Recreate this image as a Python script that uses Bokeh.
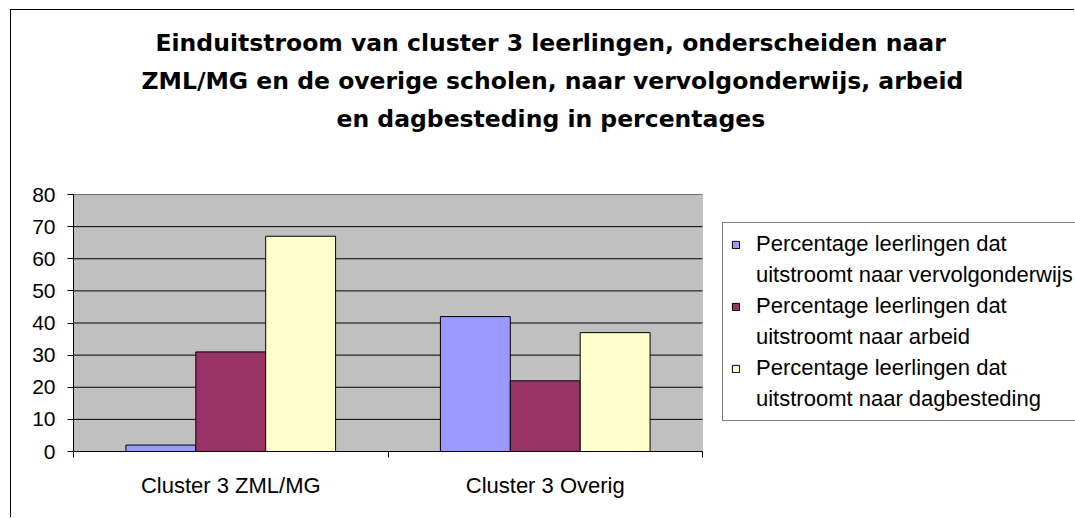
from bokeh.plotting import figure
from bokeh.models import (ColumnDataSource, Legend, LegendItem, FixedTicker,
                          Title, Range1d, BoxAnnotation)
from bokeh.embed import file_html
from bokeh.resources import INLINE

# ---- data ----
categories = ["Cluster 3 ZML/MG", "Cluster 3 Overig"]
series_label_line1 = ["Percentage leerlingen dat",
                      "Percentage leerlingen dat",
                      "Percentage leerlingen dat"]
series_label_line2 = ["uitstroomt naar vervolgonderwijs",
                      "uitstroomt naar arbeid",
                      "uitstroomt naar dagbesteding"]
vervolgonderwijs = [2, 42]
arbeid = [31, 22]
dagbesteding = [67, 37]
series_values = [vervolgonderwijs, arbeid, dagbesteding]
series_colors = ["#9999FF", "#993366", "#FFFFCC"]
y_ticks = [0, 10, 20, 30, 40, 50, 60, 70, 80]
title_lines = [
    "Einduitstroom van cluster 3 leerlingen, onderscheiden naar",
    "ZML/MG en de overige scholen, naar vervolgonderwijs, arbeid",
    "en dagbesteding in percentages",
]

FONT = "Liberation Sans"
W, H = 1064, 508
LEFT, RIGHT_FRAME = 62, 0
PLOT_PX = 629                         # width of the grey plot area in pixels
n_cat = len(categories)
y_max = y_ticks[-1]
# the frame also hosts the legend; the grey plot area covers x in [0, n_cat]
x_end = n_cat * (W - LEFT - RIGHT_FRAME) / PLOT_PX

p = figure(width=W, height=H, output_backend="svg", toolbar_location=None,
           x_range=Range1d(0, x_end), y_range=Range1d(0, y_max),
           min_border_left=LEFT, min_border_right=RIGHT_FRAME,
           min_border_top=184, min_border_bottom=67,
           background_fill_color="white", border_fill_color="white",
           outline_line_color=None,
           margin=(9, 0, 0, 10),
           styles={"border-left": "1px solid black",
                   "border-top": "1px solid black"})
p.title.visible = False

# grey plot area
p.add_layout(BoxAnnotation(left=0, right=n_cat, bottom=0, top=y_max,
                           fill_color="#C0C0C0", fill_alpha=1,
                           line_color="#808080", line_width=1,
                           level="underlay"))

# horizontal gridlines across the plot area only
p.xgrid.visible = False
p.ygrid.visible = False
p.segment(x0=[0] * len(y_ticks), x1=[n_cat] * len(y_ticks),
          y0=y_ticks, y1=y_ticks, line_color="black", line_width=1)

n_series = len(series_values)
bar_w = 1.0 / (n_series + 1.5)   # Excel gap width 150%
items = []
for j, (vals, l1, l2, col) in enumerate(zip(series_values, series_label_line1,
                                            series_label_line2, series_colors)):
    xs = [i + 0.5 + (j - (n_series - 1) / 2) * bar_w for i in range(n_cat)]
    src = ColumnDataSource(dict(x=xs, top=vals))
    r = p.vbar(x="x", top="top", width=bar_w, bottom=0, source=src,
               fill_color=col, line_color="black", line_width=1)
    # an empty, invisible renderer carries the second line of the legend label
    r2 = p.vbar(x=[], top=[], width=bar_w, bottom=0,
                fill_alpha=0, line_alpha=0)
    items.append(LegendItem(label=l1, renderers=[r]))
    items.append(LegendItem(label=l2, renderers=[r2]))

# y axis
p.yaxis.ticker = FixedTicker(ticks=y_ticks)
p.yaxis.axis_line_color = "black"
p.yaxis.major_tick_out = 6
p.yaxis.major_tick_in = 0
p.yaxis.minor_tick_line_color = None
p.yaxis.major_label_text_font = FONT
p.yaxis.major_label_text_font_size = "21px"
p.yaxis.major_label_text_color = "black"
p.yaxis.major_label_standoff = 12

# x axis
p.xaxis.bounds = (0, n_cat)
p.xaxis.ticker = FixedTicker(ticks=[i + 0.5 for i in range(n_cat)],
                             minor_ticks=list(range(n_cat + 1)))
p.xaxis.major_label_overrides = {i + 0.5: c for i, c in enumerate(categories)}
p.xaxis.axis_line_color = "black"
p.xaxis.major_tick_line_color = None
p.xaxis.minor_tick_line_color = "black"
p.xaxis.minor_tick_out = 6
p.xaxis.minor_tick_in = 0
p.xaxis.major_label_text_font = FONT
p.xaxis.major_label_text_font_size = "22px"
p.xaxis.major_label_text_color = "black"
p.xaxis.major_label_standoff = 15

# spacer between the title block and the plot area
p.add_layout(Title(text=" ", text_font_size="23.5px", standoff=30), "above")
# titles (closest to plot added first); left-aligned with offsets so that
# every line is centred near x = 549 of the chart area
title_offsets = [82, 68, 263]
for line, off in reversed(list(zip(title_lines, title_offsets))):
    t = Title(text=line, align="left", offset=off,
              text_font="DejaVu Sans", text_font_style="bold",
              text_font_size="23.5px", text_color="black", standoff=8)
    p.add_layout(t, "above")

legend = Legend(items=items, location=(PLOT_PX + 20, 30), orientation="vertical",
                label_text_font=FONT, label_text_font_size="22px",
                label_text_color="black",
                glyph_width=9, glyph_height=9, label_standoff=16,
                padding=8, spacing=5, margin=0,
                border_line_color="black", border_line_width=1,
                background_fill_color="white", background_fill_alpha=1)
p.add_layout(legend)

open("out.html", "w").write(file_html(p, INLINE))
